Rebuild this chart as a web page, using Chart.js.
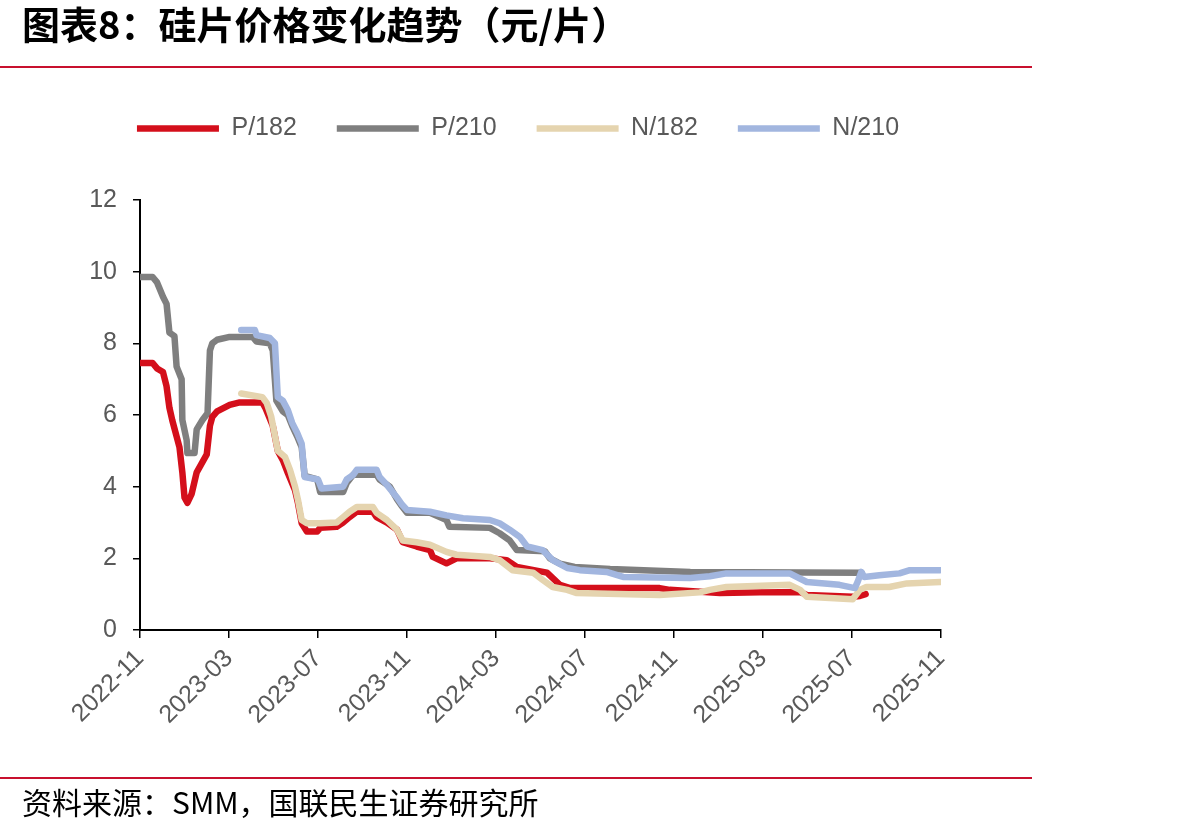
<!DOCTYPE html>
<html>
<head>
<meta charset="utf-8">
<script src="https://cdn.jsdelivr.net/npm/chart.js@4/dist/chart.umd.min.js"></script>
<style>
html,body{margin:0;padding:0;background:#fff;}
#wrap{position:relative;width:1187px;height:830px;overflow:hidden;background:#fff;}
canvas{position:absolute;left:0;top:0;}
#title{position:absolute;left:22px;top:4px;font-family:"Noto Sans CJK SC";font-weight:700;font-size:38px;line-height:38px;color:#000;white-space:nowrap;z-index:2;}
.rule{position:absolute;left:0;width:1032px;height:2px;background:#C8102E;z-index:2;}
#src{position:absolute;left:22px;top:786px;font-family:"Noto Sans CJK SC";font-size:30px;line-height:30px;color:#000;white-space:nowrap;z-index:2;}
</style>
</head>
<body>
<div id="wrap">
  <canvas id="c" width="1187" height="830"></canvas>
  <div id="title">图表8：硅片价格变化趋势（元/片）</div>
  <div class="rule" style="top:66px"></div>
  <div class="rule" style="top:777px"></div>
  <div id="src">资料来源：SMM，国联民生证券研究所</div>
</div>
<script>
// ---- data ----
const tickLabels = ['2022-11','2023-03','2023-07','2023-11','2024-03','2024-07','2024-11','2025-03','2025-07','2025-11'];
const seriesNames = ['P/182','P/210','N/182','N/210'];
const seriesColors = ['#D40F1B','#7F7F7F','#E5D4AF','#A2B6DF'];

const p182Dates = ['2022-11-01','2022-11-18','2022-11-24','2022-12-02','2022-12-07','2022-12-11','2022-12-15','2022-12-21','2022-12-25','2022-12-29','2023-01-01','2023-01-05','2023-01-11','2023-01-18','2023-01-25','2023-02-01','2023-02-05','2023-02-08','2023-02-14','2023-03-02','2023-03-16','2023-04-16','2023-04-20','2023-04-30','2023-05-07','2023-05-14','2023-05-21','2023-05-31','2023-06-04','2023-06-09','2023-06-16','2023-06-30','2023-07-04','2023-07-27','2023-08-05','2023-08-14','2023-08-24','2023-09-15','2023-09-20','2023-10-04','2023-10-18','2023-10-26','2023-11-14','2023-12-02','2023-12-06','2023-12-25','2024-01-08','2024-02-22','2024-03-16','2024-03-30','2024-05-10','2024-05-28','2024-06-11','2024-10-12','2024-10-26','2025-01-03','2025-02-25','2025-04-21','2025-04-30','2025-07-02','2025-07-12','2025-07-20'];
const p182Values = [7.45,7.45,7.3,7.2,6.8,6.2,5.85,5.4,5.1,4.4,3.7,3.55,3.8,4.4,4.65,4.9,5.7,5.95,6.1,6.28,6.35,6.35,6.2,5.7,5.0,4.74,4.38,3.9,3.54,2.98,2.75,2.75,2.85,2.88,3.0,3.15,3.3,3.3,3.15,3.0,2.8,2.45,2.33,2.23,2.04,1.86,2.0,2.0,1.95,1.76,1.6,1.26,1.17,1.17,1.12,1.03,1.05,1.06,0.98,0.93,0.95,1.0];

const p210Dates = ['2022-11-01','2022-11-18','2022-11-24','2022-12-02','2022-12-07','2022-12-11','2022-12-18','2022-12-21','2022-12-28','2022-12-29','2023-01-04','2023-01-05','2023-01-15','2023-01-18','2023-01-26','2023-02-02','2023-02-05','2023-02-08','2023-02-14','2023-03-02','2023-04-03','2023-04-08','2023-04-26','2023-04-30','2023-05-05','2023-05-14','2023-05-21','2023-05-27','2023-06-03','2023-06-09','2023-06-13','2023-06-30','2023-07-04','2023-08-05','2023-08-10','2023-08-19','2023-09-20','2023-09-24','2023-10-08','2023-10-18','2023-10-25','2023-11-01','2023-12-02','2023-12-25','2023-12-29','2024-02-22','2024-03-06','2024-03-20','2024-03-30','2024-05-07','2024-05-14','2024-05-28','2024-06-17','2024-08-05','2024-11-23','2025-07-14'];
const p210Values = [9.85,9.85,9.7,9.3,9.1,8.3,8.2,7.35,7.0,5.86,5.3,4.94,4.94,5.6,5.86,6.05,7.8,8.0,8.1,8.18,8.18,8.05,8.0,7.8,6.4,6.1,6.0,5.7,5.4,5.1,4.3,4.2,3.85,3.85,4.1,4.33,4.33,4.2,4.0,3.65,3.45,3.27,3.27,3.07,2.88,2.85,2.7,2.5,2.23,2.2,2.0,1.85,1.76,1.7,1.62,1.6];

const n182Dates = ['2023-03-18','2023-04-16','2023-04-22','2023-04-28','2023-05-07','2023-05-17','2023-05-24','2023-05-31','2023-06-04','2023-06-09','2023-06-16','2023-07-04','2023-07-27','2023-08-05','2023-08-14','2023-08-24','2023-09-15','2023-09-20','2023-10-04','2023-10-18','2023-10-26','2023-11-14','2023-12-02','2023-12-25','2024-01-08','2024-02-22','2024-03-06','2024-03-24','2024-04-21','2024-05-04','2024-05-18','2024-06-07','2024-06-20','2024-10-12','2024-12-06','2024-12-20','2025-01-12','2025-04-07','2025-04-21','2025-04-30','2025-07-02','2025-07-12','2025-07-21','2025-08-22','2025-09-15','2025-10-31'];
const n182Values = [6.6,6.5,6.33,5.95,5.0,4.83,4.47,4.0,3.63,3.07,2.98,2.98,3.0,3.15,3.3,3.43,3.43,3.27,3.07,2.8,2.5,2.45,2.38,2.18,2.1,2.04,1.95,1.67,1.6,1.4,1.2,1.12,1.03,0.98,1.05,1.12,1.2,1.26,1.12,0.93,0.86,1.12,1.2,1.2,1.3,1.34];

const n210Dates = ['2023-03-18','2023-04-06','2023-04-08','2023-04-26','2023-05-03','2023-05-07','2023-05-14','2023-05-21','2023-05-27','2023-06-03','2023-06-09','2023-06-13','2023-07-01','2023-07-06','2023-08-05','2023-08-10','2023-08-19','2023-08-24','2023-09-20','2023-09-24','2023-10-04','2023-10-18','2023-10-25','2023-11-01','2023-12-02','2023-12-25','2024-01-17','2024-02-22','2024-03-06','2024-03-20','2024-04-03','2024-04-13','2024-05-04','2024-05-18','2024-06-07','2024-06-24','2024-07-31','2024-08-23','2024-11-23','2024-12-20','2025-01-12','2025-04-07','2025-04-30','2025-06-14','2025-07-05','2025-07-09','2025-07-14','2025-07-18','2025-08-08','2025-09-05','2025-09-19','2025-10-31'];
const n210Values = [8.37,8.37,8.23,8.15,8.0,6.5,6.4,6.14,5.78,5.5,5.2,4.27,4.2,3.95,4.0,4.2,4.33,4.47,4.47,4.27,4.05,3.7,3.5,3.35,3.3,3.2,3.12,3.07,2.98,2.8,2.6,2.33,2.23,1.95,1.73,1.67,1.62,1.48,1.45,1.5,1.58,1.58,1.34,1.26,1.17,1.35,1.62,1.48,1.53,1.58,1.67,1.67];

// ---- helpers ----
function monthPos(s){
  const [y,m,d] = s.split('-').map(Number);
  const dim = new Date(y, m, 0).getDate();
  return (y-2022)*12 + (m-11) + (d-1)/dim;
}
function pts(dates, values){ return dates.map((d,i)=>({x:monthPos(d), y:values[i]})); }

const FONT = "'Liberation Sans', Arial, sans-serif";
const FONT_SIZE = 25;
const LABEL_COLOR = '#595959';
const PAD_RIGHT = 151;
const LEGEND_EXTRA = 49;

const allSeries = [pts(p182Dates,p182Values), pts(p210Dates,p210Values), pts(n182Dates,n182Values), pts(n210Dates,n210Values)];
const drawOrder = [3,4,2,1];

const datasets = seriesNames.map((name,i)=>({
  label: name,
  data: allSeries[i],
  borderColor: seriesColors[i],
  backgroundColor: seriesColors[i],
  borderWidth: 6.5,
  borderCapStyle: 'round',
  borderJoinStyle: 'round',
  pointRadius: 0,
  tension: 0,
  fill: false,
  order: drawOrder[i],
  yAxisID: 'y',
  xAxisID: 'x'
}));

const legendMargin = {
  id: 'legendMargin',
  beforeInit(chart){
    const origFit = chart.legend.fit;
    chart.legend.fit = function(){ origFit.bind(chart.legend)(); this.height += LEGEND_EXTRA; };
  }
};

new Chart(document.getElementById('c'), {
  type: 'line',
  data: { datasets },
  plugins: [legendMargin],
  options: {
    responsive: false,
    animation: false,
    devicePixelRatio: 1,
    layout: { padding: { left: 0, right: PAD_RIGHT, top: 76, bottom: 0 } },
    plugins: {
      tooltip: { enabled: false },
      legend: {
        position: 'top',
        align: 'center',
        labels: {
          usePointStyle: true,
          pointStyle: 'line',
          pointStyleWidth: 82,
          font: { family: FONT, size: FONT_SIZE },
          color: LABEL_COLOR,
          padding: 40,
          sort: (a,b)=>a.datasetIndex - b.datasetIndex
        }
      }
    },
    scales: {
      x: {
        type: 'linear',
        min: 0, max: 36,
        afterBuildTicks: (s)=>{ s.ticks = tickLabels.map((_,i)=>({value:i*4})); },
        ticks: {
          autoSkip: false, minRotation: 45, maxRotation: 45,
          font: { family: FONT, size: FONT_SIZE }, color: LABEL_COLOR, padding: 6,
          callback: (v)=> tickLabels[Math.round(v/4)]
        },
        grid: { display: true, drawOnChartArea: false, drawTicks: true, tickLength: 8, color: '#000', lineWidth: 1.5 },
        border: { display: true, color: '#000', width: 2 },
        afterFit: (s)=>{ s.height = 830 - 630; }
      },
      y: {
        type: 'linear', position: 'left',
        min: 0, max: 12,
        ticks: { stepSize: 2, font: { family: FONT, size: FONT_SIZE }, color: LABEL_COLOR, padding: 16 },
        grid: { display: true, drawOnChartArea: false, drawTicks: true, tickLength: 7, color: '#000', lineWidth: 1.5 },
        border: { display: true, color: '#000', width: 2 },
        afterFit: (s)=>{ s.width = 140; }
      },
      yRight: {
        type: 'linear', position: 'right', display: true,
        ticks: { display: false }, grid: { display: false }, border: { display: false },
        afterFit: (s)=>{ s.width = 1187 - 941 - PAD_RIGHT; }
      }
    }
  }
});
</script>
</body>
</html>
